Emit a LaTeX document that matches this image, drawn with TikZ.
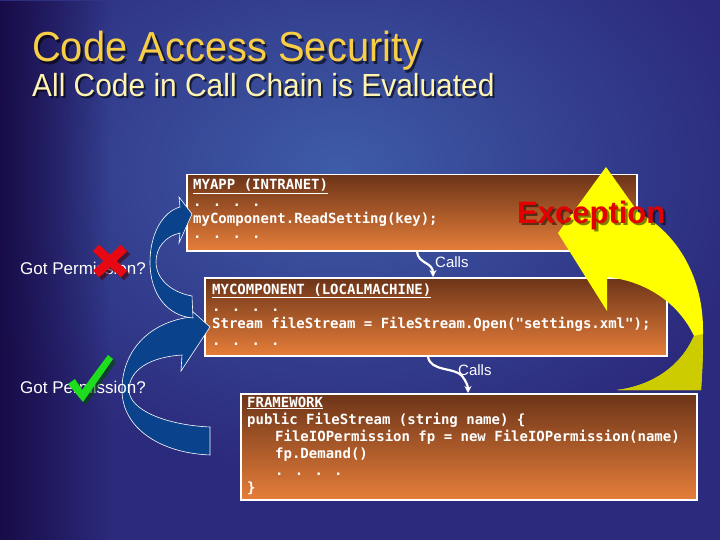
\documentclass[tikz,border=0pt]{standalone}
\usepackage{fontspec}
\setmainfont{Liberation Sans}
\newfontfamily\codefont{DejaVu Sans Mono}
\usetikzlibrary{arrows.meta,fadings}
\definecolor{bgbase}{RGB}{44,42,124}
\definecolor{bglight}{RGB}{62,92,168}
\definecolor{bgdark}{RGB}{24,12,72}
\definecolor{boxtop}{RGB}{108,52,24}
\definecolor{boxbot}{RGB}{230,126,58}
\definecolor{titlegold}{RGB}{248,206,70}
\definecolor{subcream}{RGB}{255,244,176}
\definecolor{arrowblue}{RGB}{10,66,140}
\definecolor{exyellow}{RGB}{255,255,0}
\definecolor{exolive}{RGB}{204,204,0}
\definecolor{exred}{RGB}{226,0,0}
\definecolor{xred}{RGB}{232,8,20}
\definecolor{okgreen}{RGB}{30,220,30}
\tikzset{
  codebox/.style={draw=white, line width=1.5pt, top color=boxtop, bottom color=boxbot, anchor=north west, inner sep=0pt},
  code/.style={anchor=base west, inner sep=0pt, text=white, font=\codefont\bfseries\fontsize{14}{16}\selectfont},
  titletext/.style={anchor=base west, inner sep=0pt, xscale=0.95, text=titlegold, font=\fontsize{42}{48}\selectfont},
  subtext/.style={anchor=base west, inner sep=0pt, xscale=0.935, text=subcream, font=\fontsize{32}{36}\selectfont},
  shadowtext/.style={text=black, text opacity=0.6},
  asktext/.style={anchor=base west, inner sep=0pt, text=white, font=\fontsize{17}{20}\selectfont},
  callstext/.style={anchor=base west, inner sep=0pt, text=white, font=\fontsize{15}{18}\selectfont},
  calls/.style={draw=white, line width=2.2pt, -{Stealth[length=7pt,width=7pt]}},
  bluearrow/.style={fill=arrowblue, draw=white, line width=0.6pt},
  extext/.style={anchor=base west, inner sep=0pt, font=\bfseries\fontsize{31}{36}\selectfont},
}
\begin{document}
\begin{tikzpicture}[x=1pt,y=-1pt]
\useasboundingbox (0,0) rectangle (720,540);
\clip (0,0) rectangle (720,540);
% background
\fill[bgbase] (0,0) rectangle (720,540);
\shade[inner color=bglight, outer color=bgbase] (340,170) ellipse (420 and 300);
\fill[bgdark, path fading=east] (0,0) rectangle (110,540);

% title
\node[titletext, shadowtext] (titlesh) at (34.5,64.5) {Code Access Security};
\node[titletext] (title) at (32,62) {Code Access Security};
\node[subtext, shadowtext] (subsh) at (34,99) {All Code in Call Chain is Evaluated};
\node[subtext] (sub) at (32,97) {All Code in Call Chain is Evaluated};

% boxes
\node[codebox, minimum width=450pt, minimum height=76pt] (app) at (186,174) {};
\node[codebox, minimum width=462pt, minimum height=78pt] (comp) at (204,277) {};
\node[codebox, minimum width=456pt, minimum height=106pt] (fw) at (240,393) {};

\node[code] (a0) at (193,190) {\underline{MYAPP (INTRANET)}};
\node[code] (a1) at (193,207) {. . . .};
\node[code] (a2) at (193,223) {myComponent.ReadSetting(key);};
\node[code] (a3) at (193,239) {. . . .};

\node[code] (b0) at (212,294) {\underline{MYCOMPONENT (LOCALMACHINE)}};
\node[code] (b1) at (212,311) {. . . .};
\node[code] (b2) at (212,328) {Stream fileStream = FileStream.Open("settings.xml");};
\node[code] (b3) at (212,345) {. . . .};

\node[code] (f0) at (247,407) {\underline{FRAMEWORK}};
\node[code] (f1) at (247,424) {public FileStream (string name) \{};
\node[code] (f2) at (275,441) {FileIOPermission fp = new FileIOPermission(name)};
\node[code] (f3) at (275,458) {fp.Demand()};
\node[code] (f4) at (275,475) {. . . .};
\node[code] (f5) at (247,492) {\}};

% blue curved arrows
\path[bluearrow] (210,327) -- (191,310) -- (191,317)
  .. controls (150,322) and (122,350) .. (122,390)
  .. controls (122,428) and (160,453) .. (210,455) -- (210,427)
  .. controls (166,425) and (129,410) .. (129,390)
  .. controls (129,370) and (150,357) .. (182,355) -- (181,371) -- cycle;
\path[bluearrow] (192,214) -- (179,197) -- (180,207)
  .. controls (162,212) and (150,235) .. (150,262)
  .. controls (150,295) and (168,316) .. (193,318) -- (192,296)
  .. controls (170,292) and (156,278) .. (156,262)
  .. controls (156,247) and (166,236) .. (180,233) -- (179,243) -- cycle;

% yellow exception arrow
\fill[exyellow] (606,167) -- (558,233) -- (607,311) -- (607,277)
  .. controls (645,281) and (678,302) .. (694,336)
  .. controls (680,368) and (650,386) .. (617,390) -- (701,390)
  .. controls (702,375) and (703,360) .. (703,330)
  .. controls (703,280) and (680,235) .. (638,212) -- cycle;
\fill[exolive] (694,336)
  .. controls (680,368) and (650,386) .. (617,390) -- (701,390)
  .. controls (702,375) and (703,358) .. (702.8,334) -- cycle;

\node[extext, text=black, text opacity=0.5] (exsh) at (519.5,225.5) {Exception};
\node[extext, text=exred] (ex) at (517,223) {Exception};

% calls connectors
\draw[calls] ([xshift=231pt]app.south west) .. controls (418,264) and (433,262) .. ([xshift=229pt]comp.north west);
\node[callstext] (calls1) at (435,267) {Calls};
\draw[calls] ([xshift=224pt]comp.south west) .. controls (430,372) and (455,367) .. (462,376)
  .. controls (466,381) and (468,386) .. ([xshift=228pt]fw.north west);
\node[callstext] (calls2) at (458,375) {Calls};

% permission questions
\node[asktext] (q1) at (20,274) {Got Permission?};
\node[asktext] (q2) at (20,393) {Got Permission?};

% red cross
\draw[line width=9pt, black!70!red, opacity=0.6] (99,251) -- (127,277) (127,251) -- (99,277);
\draw[line width=9pt, xred] (96,248) -- (124,274) (124,248) -- (96,274);

% green check
\fill[black!70!green, opacity=0.6] (71,387) -- (78,382) -- (85,393) -- (111,358) -- (116,362) -- (86,405) -- cycle;
\fill[okgreen] (68,384) -- (75,379) -- (82,390) -- (108,355) -- (113,359) -- (83,402) -- cycle;
\end{tikzpicture}
\end{document}
